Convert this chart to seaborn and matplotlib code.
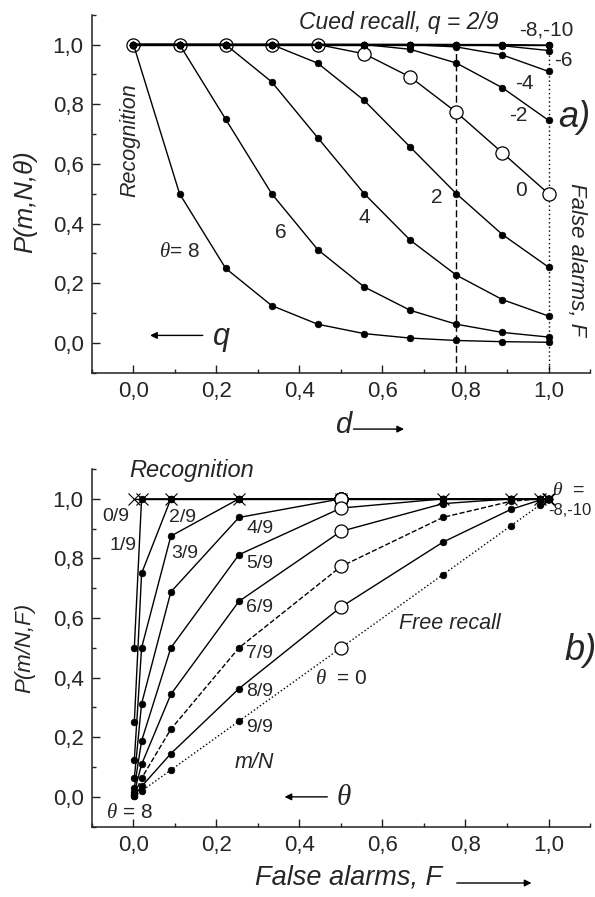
import pandas as pd
import matplotlib.pyplot as plt
import seaborn as sns
from matplotlib.ticker import MultipleLocator, FuncFormatter

sns.set_style("ticks")
plt.rcParams["font.family"] = ["Liberation Sans", "DejaVu Sans"]
plt.rcParams["mathtext.fontset"] = "custom"
plt.rcParams["mathtext.it"] = "Liberation Serif:italic"
plt.rcParams["mathtext.rm"] = "Liberation Sans"

# d = k/9 grid (panel a x axis)
d = [0.0, 0.111, 0.222, 0.333, 0.444, 0.556, 0.667, 0.778, 0.889, 1.0]
theta = [8, 6, 4, 2, 0, -2, -4, -6, -8, -10]

# P(m,N,theta), one list per theta
p_t8 = [1.0, 0.5, 0.25, 0.125, 0.0625, 0.031, 0.016, 0.008, 0.004, 0.002]
p_t6 = [1.0, 1.0, 0.75, 0.5, 0.3125, 0.1875, 0.109, 0.0625, 0.035, 0.0195]
p_t4 = [1.0, 1.0, 1.0, 0.875, 0.6875, 0.5, 0.344, 0.227, 0.145, 0.090]
p_t2 = [1.0, 1.0, 1.0, 1.0, 0.9375, 0.8125, 0.656, 0.5, 0.363, 0.254]
p_t0 = [1.0, 1.0, 1.0, 1.0, 1.0, 0.969, 0.891, 0.773, 0.637, 0.5]
p_tm2 = [1.0, 1.0, 1.0, 1.0, 1.0, 1.0, 0.984, 0.938, 0.855, 0.746]
p_tm4 = [1.0, 1.0, 1.0, 1.0, 1.0, 1.0, 1.0, 0.992, 0.965, 0.910]
p_tm6 = [1.0, 1.0, 1.0, 1.0, 1.0, 1.0, 1.0, 1.0, 0.996, 0.980]
p_tm8 = [1.0, 1.0, 1.0, 1.0, 1.0, 1.0, 1.0, 1.0, 1.0, 0.998]
p_tm10 = [1.0, 1.0, 1.0, 1.0, 1.0, 1.0, 1.0, 1.0, 1.0, 1.0]
curves = [p_t8, p_t6, p_t4, p_t2, p_t0, p_tm2, p_tm4, p_tm6, p_tm8, p_tm10]

m_labels = ["0/9", "1/9", "2/9", "3/9", "4/9", "5/9", "6/9", "7/9", "8/9", "9/9"]

# panel b: false alarm rate F is the d = 1 value of each theta curve
df_b = pd.DataFrame(
    [(th, m_labels[j], c[-1], c[j]) for th, c in zip(theta, curves) for j in range(10)],
    columns=["theta", "m", "F", "P"],
)

fig = plt.figure(figsize=(5.95, 8.97), dpi=100)
ax1 = fig.add_axes([0.1546, 0.5845, 0.837, 0.3991])
ax2 = fig.add_axes([0.1546, 0.0784, 0.837, 0.3987])

LW = 1.0
FS = 14

# ---- panel a
for th, p in zip(theta, curves):
    if th == 0:
        sns.lineplot(x=d, y=p, ax=ax1, color="k", lw=LW, marker="o", ms=9.5,
                     mfc="white", mec="k", mew=0.9, zorder=3)
    else:
        sns.lineplot(x=d, y=p, ax=ax1, color="k", lw=LW, marker="o", ms=4.8,
                     mfc="k", mec="k", mew=0.5, zorder=4)
ax1.vlines(d[7], -0.1, 1.0, color="k", lw=1.0, linestyles=(0, (5, 2.5)), zorder=2)
ax1.vlines(d[9], -0.1, 1.0, color="k", lw=1.0, linestyles=(0, (1, 2)), zorder=2)

# ---- panel b
for j, m in enumerate(m_labels):
    sub = df_b[df_b["m"] == m]
    ls = "--" if m == "7/9" else (":" if m == "9/9" else "-")
    if j == 0:
        sns.lineplot(data=sub, x="F", y="P", ax=ax2, sort=False, color="k", lw=LW,
                     ls=ls, marker="x", ms=8, mec="k", mew=0.8, zorder=3)
    else:
        sns.lineplot(data=sub, x="F", y="P", ax=ax2, sort=False, color="k", lw=LW,
                     ls=ls, marker="o", ms=4.8, mfc="k", mec="k", mew=0.5, zorder=4)
open_pts = df_b[df_b["theta"] == 0]
sns.scatterplot(data=open_pts, x="F", y="P", ax=ax2, s=88, color="white",
                edgecolor="k", linewidth=0.9, zorder=6)

fmt = FuncFormatter(lambda v, _: f"{v:.1f}".replace(".", ","))
for ax in (ax1, ax2):
    ax.set_xlim(-0.1, 1.1)
    ax.set_ylim(-0.1, 1.1)
    ax.xaxis.set_major_locator(MultipleLocator(0.2))
    ax.yaxis.set_major_locator(MultipleLocator(0.2))
    ax.xaxis.set_minor_locator(MultipleLocator(0.1))
    ax.yaxis.set_minor_locator(MultipleLocator(0.1))
    ax.xaxis.set_major_formatter(fmt)
    ax.yaxis.set_major_formatter(fmt)
    ax.tick_params(which="major", direction="in", length=6, width=1.0,
                   labelsize=16, pad=6, color="#222222")
    ax.tick_params(which="minor", direction="in", length=3, width=1.0, color="#222222")
    sns.despine(ax=ax)
    for s in ("left", "bottom"):
        ax.spines[s].set_linewidth(1.1)
        ax.spines[s].set_color("#222222")
    ax.set_xlabel("")
    ax.set_ylabel("")

# ---- panel a texts
ax1.text(-0.135, 0.477, "P(m,N,θ)", transform=ax1.transAxes, rotation=90,
         style="italic", fontsize=18.5, ha="center", va="center")
ax1.text(0.639, 1.073, "Cued recall, q = 2/9", style="italic", fontsize=16.5,
         ha="center", va="center")
ax1.text(0.930, 1.050, "-8,-10", fontsize=15, ha="left", va="center")
for txt, x, y in [("-6", 1.037, 0.946), ("-4", 0.942, 0.869), ("-2", 0.927, 0.763),
                  ("0", 0.934, 0.512), ("2", 0.731, 0.486), ("4", 0.555, 0.419),
                  ("6", 0.356, 0.369)]:
    ax1.text(x, y, txt, fontsize=15, ha="center", va="center")
ax1.text(0.111, 0.305, r"$\theta$= 8", fontsize=15, ha="center", va="center")
ax1.text(-0.008, 0.679, "Recognition", rotation=90, style="italic", fontsize=15.5,
         ha="center", va="center")
ax1.text(1.067, 0.279, "False alarms, F", rotation=270, style="italic", fontsize=16,
         ha="center", va="center", clip_on=False)
ax1.text(1.024, 0.756, "a)", style="italic", fontsize=26, ha="left", va="center",
         clip_on=False)
ax1.annotate("", xy=(0.04, 0.025), xytext=(0.167, 0.025),
             arrowprops=dict(arrowstyle="-|>", color="k", lw=1.0, mutation_scale=10,
                             shrinkA=0, shrinkB=0))
ax1.text(0.212, 0.02, "q", style="italic", fontsize=22, ha="center", va="center")
ax1.text(0.504, -0.275, "d", style="italic", fontsize=21, ha="center", va="center",
         clip_on=False)
ax1.annotate("", xy=(0.652, -0.289), xytext=(0.53, -0.289), annotation_clip=False,
             arrowprops=dict(arrowstyle="-|>", color="k", lw=1.0, mutation_scale=10,
                             shrinkA=0, shrinkB=0))

# ---- panel b texts
ax2.text(-0.135, 0.50, "P(m/N,F)", transform=ax2.transAxes, rotation=90,
         style="italic", fontsize=16, ha="center", va="center")
ax2.text(0.140, 1.094, "Recognition", style="italic", fontsize=17, ha="center",
         va="center", clip_on=False)
lab_pos = [(-0.043, 0.940), (-0.026, 0.843), (0.118, 0.938), (0.124, 0.816),
           (0.304, 0.900), (0.304, 0.784), (0.304, 0.637), (0.304, 0.481),
           (0.303, 0.352), (0.303, 0.233)]
for m, (x, y) in zip(m_labels, lab_pos):
    ax2.text(x, y, m, fontsize=FS, ha="center", va="center")
ax2.text(0.292, 0.114, "m/N", style="italic", fontsize=15.5, ha="center", va="center")
ax2.text(-0.010, -0.051, r"$\theta$ = 8", fontsize=15, ha="center", va="center")
ax2.text(0.763, 0.583, "Free recall", style="italic", fontsize=15.5, ha="center",
         va="center")
ax2.text(1.038, 0.491, "b)", style="italic", fontsize=26, ha="left", va="center",
         clip_on=False)
ax2.text(0.502, 0.398, r"$\theta$  = 0", fontsize=15, ha="center", va="center")
ax2.text(1.008, 1.027, r"$\theta$  =", fontsize=14, ha="left", va="center",
         clip_on=False)
ax2.text(1.0, 0.960, "-8,-10", fontsize=12, ha="left", va="center", clip_on=False)
ax2.annotate("", xy=(0.364, 0.0), xytext=(0.467, 0.0),
             arrowprops=dict(arrowstyle="-|>", color="k", lw=1.0, mutation_scale=10,
                             shrinkA=0, shrinkB=0))
ax2.text(0.507, 0.0, r"$\theta$", fontsize=21, ha="center", va="center")
ax2.text(0.292, -0.269, "False alarms, F", style="italic", fontsize=19.5, ha="left",
         va="center", clip_on=False)
ax2.annotate("", xy=(0.959, -0.289), xytext=(0.779, -0.289), annotation_clip=False,
             arrowprops=dict(arrowstyle="-|>", color="k", lw=1.0, mutation_scale=10,
                             shrinkA=0, shrinkB=0))

fig.savefig("out.png", dpi=100)
